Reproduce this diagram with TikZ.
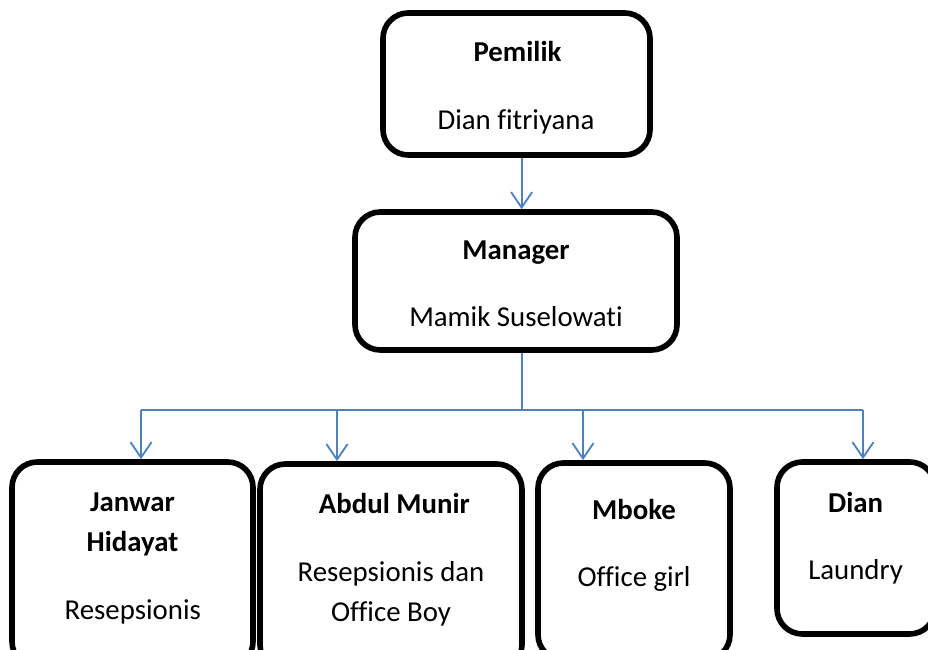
\documentclass[tikz,border=0pt]{standalone}
\usepackage{fontspec}
\setmainfont{Carlito}[Ligatures=CommonOff]
\usetikzlibrary{arrows.meta}
\definecolor{linkblue}{RGB}{79,129,189}
\tikzset{
   box/.style={draw, line width=4pt, rounded corners=18pt, inner sep=0pt},
   link/.style={draw=linkblue, line width=1.3pt},
   arr/.style={link, -{Straight Barb[length=11pt,width=15pt]}},
   txt/.style={anchor=base, inner sep=0pt, font=\fontsize{20.5}{28.5}\selectfont},
   head/.style={txt, font=\fontsize{20.5}{28.5}\selectfont\bfseries}
}
\begin{document}
\begin{tikzpicture}
      \useasboundingbox (0,0) rectangle (23.2,16.25);
      \clip (0,0) rectangle (23.2,16.25);
      \node[box, minimum width=6.675cm, minimum height=3.55cm] (pemilik) at (12.9125,14.15) {};
      \node[box, minimum width=8.05cm, minimum height=3.45cm] (manager) at (12.9,9.225) {};
      \node[box, minimum width=6.025cm, minimum height=5.125cm] (janwar) at (3.3125,2.1375) {};
      \node[box, minimum width=6.55cm, minimum height=5.15cm] (abdul) at (9.775,2.075) {};
      \node[box, minimum width=4.8cm, minimum height=4.925cm] (mboke) at (15.85,2.2125) {};
      \node[box, minimum width=3.95cm, minimum height=4.3cm] (dian) at (21.4,2.55) {};
      \node[head] (pemilik-t) at (12.9375,14.7) {Pemilik};
      \node[txt] (pemilik-n) at (12.9,13.0) {Dian fitriyana};
      \node[head] (manager-t) at (12.9,9.75) {Manager};
      \node[txt] (manager-n) at (12.9,8.08) {Mamik Suselowati};
      \node[head] (janwar-t) at (3.3125,3.45) {Janwar};
      \node[head] (janwar-t2) at (3.3125,2.45) {Hidayat};
      \node[txt] (janwar-n) at (3.32,0.75) {Resepsionis};
      \node[head] (abdul-t) at (9.86,3.42) {Abdul Munir};
      \node[txt] (abdul-n) at (9.775,1.7) {Resepsionis dan};
      \node[txt] (abdul-n2) at (9.775,0.7) {Office Boy};
      \node[head] (mboke-t) at (15.85,3.25) {Mboke};
      \node[txt] (mboke-n) at (15.85,1.58) {Office girl};
      \node[head] (dian-t) at (21.39,3.43) {Dian};
      \node[txt] (dian-n) at (21.39,1.77) {Laundry};
      \coordinate (bus) at (13.05,6.0);
      \draw[arr] (13.04,0 |- pemilik.south) -- (13.04,0 |- manager.north);
      \draw[link] (13.05,0 |- manager.south) -- (bus);
      \draw[link] (3.525,0 |- bus) -- (21.575,0 |- bus);
      \draw[arr] (3.525,0 |- bus) -- (3.525,0 |- janwar.north);
      \draw[arr] (8.425,0 |- bus) -- (8.425,0 |- abdul.north);
      \draw[arr] (14.575,0 |- bus) -- (14.575,0 |- mboke.north);
      \draw[arr] (21.575,0 |- bus) -- (21.575,0 |- dian.north);
\end{tikzpicture}
\end{document}
